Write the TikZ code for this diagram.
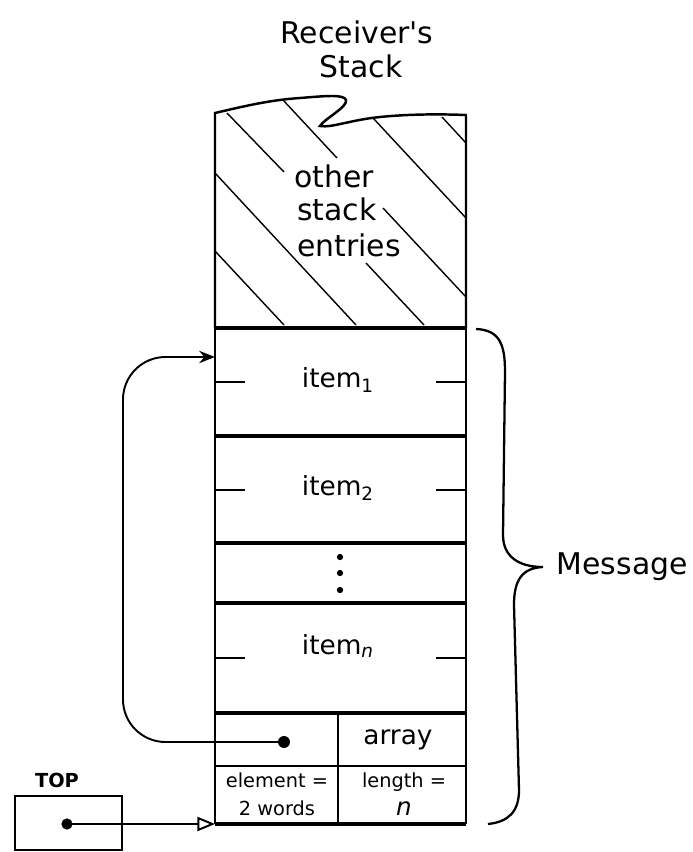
\documentclass[tikz,border=0pt]{standalone}
\usepackage{fontspec}
\setmainfont{DejaVu Sans}
\usetikzlibrary{arrows.meta}

\begin{document}
\begin{tikzpicture}[x=0.02cm,y=-0.02cm,line width=1.1pt,>=Stealth,
  hand/.style={font=\fontsize{17}{19}\selectfont},
  itemtxt/.style={font=\fontsize{15}{17}\selectfont},
  small/.style={font=\fontsize{11}{16}\selectfont,align=center},
  sep/.style={line width=2.4pt},
  hatch/.style={line width=0.8pt},
  tick/.style={line width=1.2pt}]
\useasboundingbox (0,0) rectangle (693,852);
% ---------- 标题 ----------
\node[hand] (title1) at (357,32) {Receiver\textquotesingle s};
\node[hand] (title2) at (361,66) {Stack};
% ---------- 栈顶：波浪边 + 斜线 ----------
\draw[line width=1.4pt] (215,328) -- (215,113)
  .. controls (245,106) and (270,100) .. (300,98)
  .. controls (325,96) and (344,94) .. (346,100)
  .. controls (348,107) and (324,119) .. (320,126)
  .. controls (332,128) and (350,120) .. (380,117)
  .. controls (410,114) and (440,114) .. (466,115) -- (466,328);
\draw[hatch] (215,251) -- (284,325);
\draw[hatch] (215,173) -- (356,325);
\draw[hatch] (227,113) -- (284,172) (366,263) -- (424,325);
\draw[hatch] (283,100) -- (337,158) (383,208) -- (466,297);
\draw[hatch] (373,118) -- (466,218);
\draw[hatch] (442,117) -- (466,143);
\node[hand] (other) at (334,176) {other};
\node[hand] (stack) at (337,209) {stack};
\node[hand] (entries) at (349,245) {entries};
% ---------- 消息各行 ----------
\draw[line width=1.4pt] (215,328) -- (215,824) (466,328) -- (466,824);
\foreach \y in {328,436,543,603,713,824}
  \draw[sep] (215,\y) -- (466,\y);
\draw[line width=1.6pt] (215,766) -- (466,766);
\draw (338,713) -- (338,824);
% 行中刻线
\foreach \y in {382,490,658} {
  \draw[tick] (215,\y) -- +(30,0);
  \draw[tick] (466,\y) -- +(-30,0);
}
\node[itemtxt] (item1) at (338,380) {item\textsubscript{1}};
\node[itemtxt] (item2) at (338,488) {item\textsubscript{2}};
\node[itemtxt] (itemn) at (338,646) {item\textsubscript{\itshape n}};
\foreach \y in {557,573,590}
  \fill (340,\y) circle (1.8pt);
\node[itemtxt] (array) at (398,740) {array};
\node[small] (elem) at (277,794) {element =\\2 words};
\node[small] (len) at (404,794) {length =\\{\fontsize{14}{16}\selectfont\itshape n}};
% ---------- 指针回到 item1 ----------
\coordinate (ptr) at (284,742);
\coordinate (loop) at (123,357);
\coordinate (in1) at (215,357);
\fill (ptr) circle (3.4pt);
\draw[-{Stealth[length=9pt,width=7pt]},rounded corners=0.85cm] (ptr) -| (loop) -- (in1);
% ---------- TOP ----------
\node[font=\fontsize{11}{13}\selectfont\bfseries] (toplbl) at (57,780) {TOP};
\node[draw,line width=1.2pt,minimum width=2.14cm,minimum height=1.08cm,
  inner sep=0pt] (topbox) at (68.5,823) {};
\coordinate (topptr) at (67,824);
\coordinate (stackbot) at (215,824);
\fill (topptr) circle (3.2pt);
\draw[-{Triangle[open,length=10pt,width=8pt]}] (topptr) -- (stackbot);
% ---------- 花括号 Message ----------
\coordinate (tip) at (543,567);
\node[hand,anchor=west] (msg) at (550,567) {Message};
\draw[line width=1.3pt] (476,329) .. controls (500,330) and (505,345) .. (505,372)
  -- (503,535) .. controls (503,556) and (518,567) .. (tip)
  .. controls (522,568) and (514,580) .. (514,605)
  -- (519,790) .. controls (519,812) and (508,822) .. (488,824);
\end{tikzpicture}
\end{document}
